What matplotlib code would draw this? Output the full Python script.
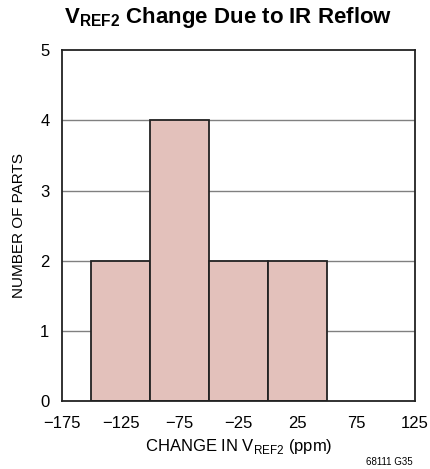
import matplotlib
matplotlib.use("Agg")
import matplotlib.pyplot as plt

plt.rcParams['font.family'] = ['Liberation Sans', 'DejaVu Sans']

bin_edges = [-150, -100, -50, 0, 50]
counts = [2, 4, 2, 2]
xticks = [-175, -125, -75, -25, 25, 75, 125]
xticklabels = ['\u2212175', '\u2212125', '\u221275', '\u221225', '25', '75', '125']
yticks = [0, 1, 2, 3, 4, 5]

fig = plt.figure(figsize=(4.3, 4.69), dpi=100)
ax = fig.add_axes([0.144, 0.145, 0.821, 0.748])
ax.set_xlim(-175, 125)
ax.set_ylim(0, 5)
for y in [1, 2, 3, 4]:
    ax.axhline(y, color='#808080', lw=1.0, zorder=1)
lefts = bin_edges[:-1]
widths = [b - a for a, b in zip(bin_edges[:-1], bin_edges[1:])]
ax.bar(lefts, counts, width=widths, align='edge', color='#e3c1bb',
       edgecolor='#222222', linewidth=1.3, zorder=2)
ax.set_xticks(xticks)
ax.set_xticklabels(xticklabels)
ax.set_yticks(yticks)
ax.tick_params(axis='x', length=0, labelsize=12, pad=11)
ax.tick_params(axis='y', length=0, labelsize=12, pad=9)
for s in ax.spines.values():
    s.set_linewidth(1.3)
    s.set_color('#222222')
ax.set_xlabel('CHANGE IN V$_{\\mathregular{REF2}}$ (ppm)', fontsize=12, labelpad=4)
ax.set_ylabel('NUMBER OF PARTS', fontsize=11, labelpad=10)
fig.text(0.53, 0.962, 'V$_{\\mathregular{REF2}}$ Change Due to IR Reflow',
         ha='center', va='center', fontsize=16, fontweight='bold')
fig.text(0.96, 0.015, '68111 G35', ha='right', va='center', fontsize=7)
fig.savefig('out.png', dpi=100)
